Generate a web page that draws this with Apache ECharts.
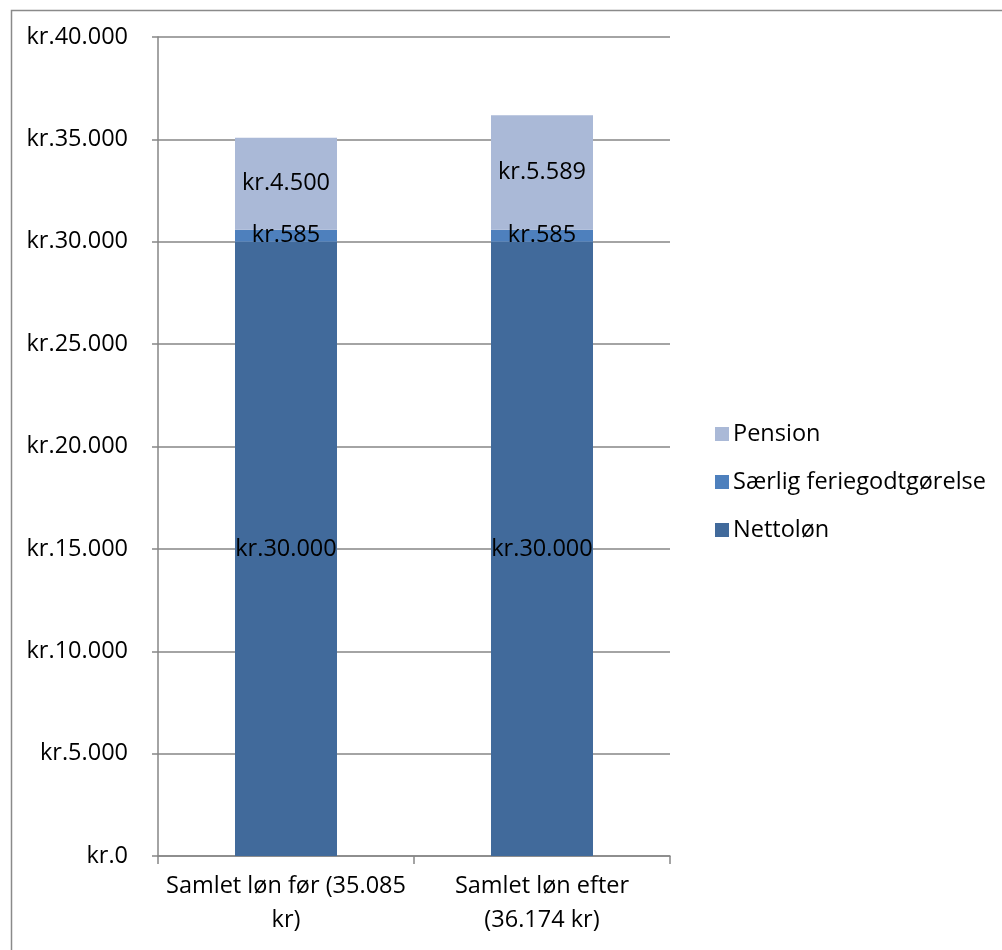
<!DOCTYPE html>
<html>
<head>
<meta charset="utf-8">
<script src="https://cdn.jsdelivr.net/npm/echarts@6/dist/echarts.min.js"></script>
<style>html,body{margin:0;padding:0;background:#fff;}#c{width:1002px;height:950px;}</style>
</head>
<body>
<div id="c"></div>
<script>
const categories = ['Samlet løn før (35.085\nkr)', 'Samlet løn efter\n(36.174 kr)'];
const seriesNames = ['Nettoløn', 'Særlig feriegodtgørelse', 'Pension'];
const nettolon = [30000, 30000];
const feriegodtgorelse = [585, 585];
const pension = [4500, 5589];
const colors = ['#416A9B', '#4E80BD', '#AAB9D7'];

function kr(v) {
  const s = String(Math.round(v)).replace(/\B(?=(\d{3})+(?!\d))/g, '.');
  return 'kr.' + s;
}
const FONT = '"Open Sans", "DejaVu Sans", sans-serif';
const FS = 23.5;
const chart = echarts.init(document.getElementById('c'));
const valuesList = [nettolon, feriegodtgorelse, pension];
chart.setOption({
  animation: false,
  backgroundColor: '#fff',
  textStyle: { fontFamily: FONT },
  graphic: [{
    type: 'rect', left: 9, top: 8, z: -1,
    shape: { width: 1100, height: 1100 },
    style: { fill: 'none', stroke: '#8a8a8a', lineWidth: 1.5 }
  }],
  grid: { left: 158, right: 332, top: 37, bottom: 94, containLabel: false },
  legend: {
    orient: 'vertical', left: 710, top: 417,
    data: ['Pension', 'Særlig feriegodtgørelse', 'Nettoløn'],
    itemWidth: 14, itemHeight: 14, itemGap: 24,
    icon: 'rect',
    textStyle: { fontSize: FS, color: '#000', fontFamily: FONT, padding: [0, 0, 0, -1], lineHeight: 24 }
  },
  xAxis: {
    type: 'category', data: categories,
    axisLine: { lineStyle: { color: '#868686', width: 1.5 } },
    axisTick: { show: true, length: 8, alignWithLabel: false, lineStyle: { color: '#868686', width: 1.5 } },
    axisLabel: { fontSize: FS, color: '#000', lineHeight: 34, margin: 13, fontFamily: FONT, interval: 0 }
  },
  yAxis: {
    type: 'value', min: 0, max: 40000, interval: 5000,
    axisLine: { show: true, lineStyle: { color: '#868686', width: 1.5 } },
    axisTick: { show: true, length: 6, lineStyle: { color: '#868686', width: 1.5 } },
    splitLine: { lineStyle: { color: '#868686', width: 1.5 } },
    axisLabel: { fontSize: FS, color: '#000', margin: 30, fontFamily: FONT, formatter: kr }
  },
  series: seriesNames.map((name, i) => ({
    name, type: 'bar', stack: 'total', barWidth: 102,
    data: valuesList[i],
    itemStyle: { color: colors[i] },
    label: {
      show: true, position: 'inside', color: '#000', fontSize: FS, fontFamily: FONT,
      formatter: p => kr(p.value)
    }
  }))
});
</script>
</body>
</html>
